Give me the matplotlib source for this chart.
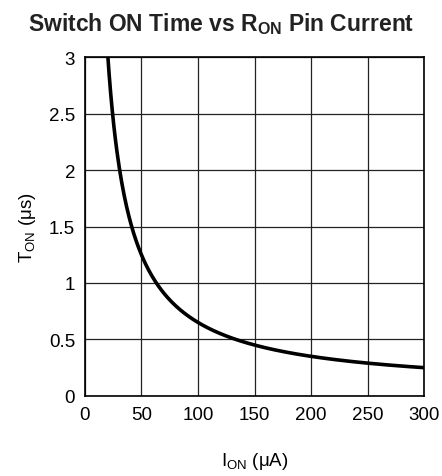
import numpy as np
import matplotlib.pyplot as plt

plt.rcParams['font.family'] = ['Liberation Sans', 'DejaVu Sans']

# curve points
i_on = [20, 22, 25, 30, 35, 40, 45, 50, 60, 70, 80, 90, 100, 125, 150, 175, 200, 250, 300]
t_on = [3.05, 2.78, 2.45, 2.05, 1.76, 1.55, 1.38, 1.25, 1.05, 0.91, 0.80, 0.72, 0.65,
        0.53, 0.45, 0.39, 0.35, 0.29, 0.25]

xticks = [0, 50, 100, 150, 200, 250, 300]
yticks = [0, 0.5, 1, 1.5, 2, 2.5, 3]
yticklabels = ['0', '0.5', '1', '1.5', '2', '2.5', '3']

fig = plt.figure(figsize=(4.42, 4.77), dpi=100)
ax = fig.add_axes([0.192, 0.168, 0.768, 0.71])

# smooth the read points with a fit in 1/x space
xs = np.linspace(20, 300, 400)
coef = np.polyfit(1 / np.array(i_on), t_on, 3)
ax.plot(xs, np.polyval(coef, 1 / xs), color='black', lw=2.6, solid_capstyle='butt')

ax.set_xlim(0, 300)
ax.set_ylim(0, 3)
ax.set_xticks(xticks)
ax.set_yticks(yticks)
ax.set_yticklabels(yticklabels)
ax.tick_params(length=0, labelsize=13.5, pad=7)
ax.grid(True, color='#222222', lw=0.9)
for s in ax.spines.values():
    s.set_linewidth(1.2)

ax.set_xlabel(r'I$_{\mathregular{ON}}$ ($\mathregular{\mu}$A)', fontsize=13.5, labelpad=20)
ax.set_ylabel(r'T$_{\mathregular{ON}}$ ($\mathregular{\mu}$s)', fontsize=13.5, labelpad=8)
fig.text(0.5, 0.935, r'Switch ON Time vs R$_{\mathregular{ON}}$ Pin Current',
         ha='center', fontsize=16.5, fontweight='bold', color='#222222')

fig.savefig('out.png', dpi=100)
